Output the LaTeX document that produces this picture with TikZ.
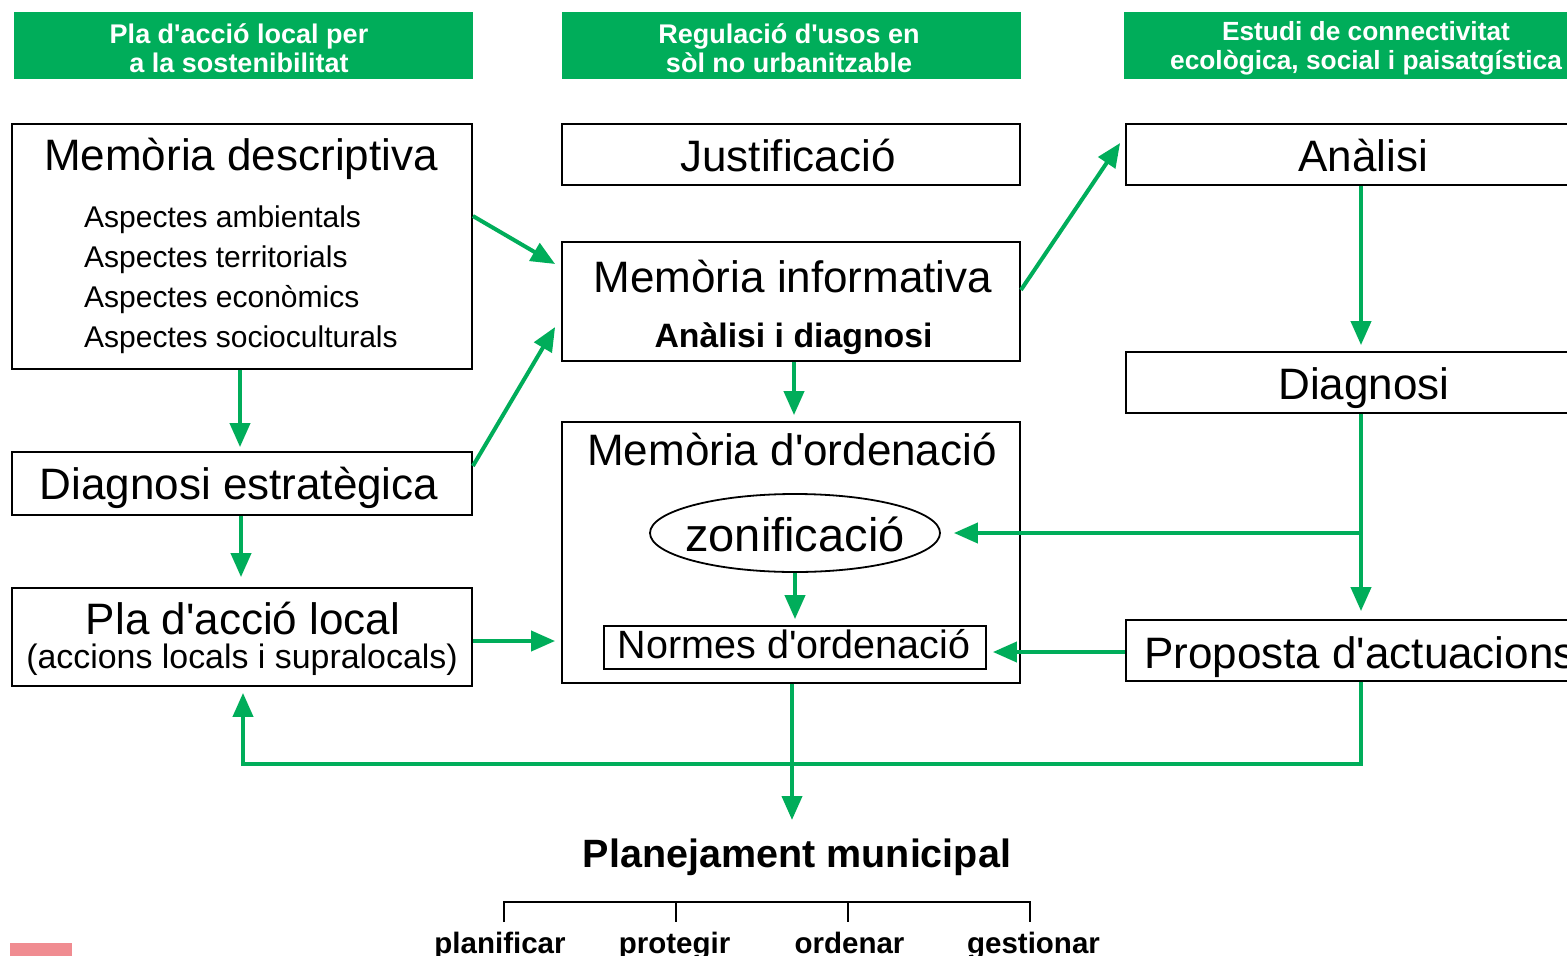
\documentclass[tikz,border=0pt]{standalone}
\usepackage{fontspec}
\setmainfont{Liberation Sans}[Ligatures=TeXOff]
\usetikzlibrary{arrows.meta,shapes.geometric,calc}
\definecolor{gr}{RGB}{0,173,90}
\definecolor{patch}{RGB}{240,140,145}
\newcommand\fsz[2]{\fontsize{#1}{#2}\selectfont}
\begin{document}
\begin{tikzpicture}[x=1pt,y=-1pt,
  box/.style={draw=black,line width=1.8pt,inner sep=0pt,fill=white},
  hdr/.style={fill=gr,inner sep=0pt},
  hdrt/.style={inner sep=0pt,text=white,align=center,font=\fsz{27}{29}\bfseries},
  big/.style={anchor=base,inner sep=0pt,font=\fsz{44}{50}},
  asp/.style={anchor=base west,inner sep=0pt,font=\fsz{30}{34}},
  lbl/.style={anchor=base,inner sep=0pt,font=\fsz{29.5}{32}\bfseries},
  arr/.style={draw=gr,line width=4pt,-{Triangle[length=24pt,width=20pt]}},
  brk/.style={draw=black,line width=2pt}]
\useasboundingbox (0,0) rectangle (1567,956);
% headers
\node[hdr,minimum width=459,minimum height=67] (h1) at (243.5,45.5) {};
\node[hdr,minimum width=459,minimum height=67] (h2) at (791.5,45.5) {};
\node[hdr,minimum width=484,minimum height=67] (h3) at (1366,45.5) {};
\node[hdrt] (h1t) at (239,48.5) {Pla d'acció local per\\a la sostenibilitat};
\node[hdrt] (h2t) at (789,48.5) {Regulació d'usos en\\sòl no urbanitzable};
\node[hdrt,font=\fsz{26.3}{29}\bfseries] (h3t) at (1366,48.5) {Estudi de connectivitat\\ecològica, social i paisatgística};
% boxes
\node[box,minimum width=460,minimum height=245] (md) at (242,246.5) {};
\node[box,minimum width=460,minimum height=63] (de) at (242,483.5) {};
\node[box,minimum width=460,minimum height=98] (pal) at (242,637) {};
\node[box,minimum width=458,minimum height=61] (ju) at (791,154.5) {};
\node[box,minimum width=458,minimum height=119] (mi) at (791,301.5) {};
\node[box,minimum width=458,minimum height=261] (mo) at (791,552.5) {};
\node[box,ellipse,minimum width=290,minimum height=78] (zo) at (795,533) {};
\node[box,minimum width=382,minimum height=43] (nm) at (795,647.5) {};
\node[box,minimum width=474,minimum height=61] (an) at (1363,154.5) {};
\node[box,minimum width=474,minimum height=61] (dg) at (1363,382.5) {};
\node[box,minimum width=474,minimum height=61] (pa) at (1363,650.5) {};
% texts
\node[big] (mdt) at (241,170) {Memòria descriptiva};
\node[asp] (a1) at (84,227) {Aspectes ambientals};
\node[asp] (a2) at (84,267) {Aspectes territorials};
\node[asp] (a3) at (84,307) {Aspectes econòmics};
\node[asp] (a4) at (84,347) {Aspectes socioculturals};
\node[big] (det) at (239,499) {Diagnosi estratègica};
\node[big] (pal1) at (243,634) {Pla d'acció local};
\node[anchor=base,inner sep=0pt,font=\fsz{33.9}{38}] (pal2) at (242,668) {(accions locals i supralocals)};
\node[big] (jut) at (788,171) {Justificació};
\node[big] (mit1) at (793,292) {Memòria informativa};
\node[anchor=base,inner sep=0pt,font=\fsz{33.8}{36}\bfseries] (mit2) at (793.5,347) {Anàlisi i diagnosi};
\node[big] (mot) at (792,465) {Memòria d'ordenació};
\node[anchor=base,inner sep=0pt,font=\fsz{47}{52}] (zot) at (795,551) {zonificació};
\node[anchor=base,inner sep=0pt,font=\fsz{39.5}{44}] (nmt) at (794,658) {Normes d'ordenació};
\node[big] (ant) at (1363,171) {Anàlisi};
\node[big] (dgt) at (1364,399) {Diagnosi};
\node[big,anchor=base west] (pat) at (1144,668) {Proposta d'actuacions};
\node[anchor=base,inner sep=0pt,font=\fsz{39.5}{44}\bfseries] (pmt) at (797,867) {Planejament municipal};
\coordinate (pmin) at (792,820);
\node[lbl] (l1) at (500,953) {planificar};
\node[lbl] (l2) at (674.5,953) {protegir};
\node[lbl] (l3) at (849.5,953) {ordenar};
\node[lbl] (l4) at (1033.5,953) {gestionar};
% bracket
\draw[brk] (504,922) -- (504,902) -- (1030,902) -- (1030,922);
\draw[brk] (676,902) -- (676,922);
\draw[brk] (848,902) -- (848,922);
% arrows
\draw[arr] ([yshift=30.5pt]md.east) -- ([xshift=-6pt,yshift=37.5pt]mi.west);
\draw[arr] ([yshift=17.5pt]de.east) -- ([xshift=-6pt,yshift=-25.5pt]mi.west);
\draw[arr,shorten >=4pt] ([xshift=-2pt]md.south) -- ([xshift=-2pt]de.north);
\draw[arr,shorten >=10pt] ([xshift=-1pt]de.south) -- ([xshift=-1pt]pal.north);
\draw[arr,shorten >=6pt] ([yshift=-4pt]pal.east) -- ([yshift=-4pt]pal.east -| mo.west);
\draw[arr,shorten >=6pt] ([xshift=3pt]mi.south) -- ([xshift=3pt]mo.north);
\draw[arr] ([yshift=11.5pt]mi.east) -- ([xshift=-5pt,yshift=11.5pt]an.west);
\draw[arr,shorten >=6pt] ([xshift=-2pt]an.south) -- ([xshift=-2pt]dg.north);
\draw[arr,shorten >=8pt] ([xshift=-2pt]dg.south) -- ([xshift=-2pt]pa.north);
\draw[arr] ([xshift=-2pt]dg.south |- zo.east) -- ([xshift=13pt]zo.east);
\draw[arr,shorten >=6pt] (zo.south) -- (nm.north);
\draw[arr,shorten >=6pt] ([yshift=-1.5pt]pa.west) -- ([yshift=-1.5pt]pa.west -| nm.east);
\draw[arr] ([xshift=1pt]mo.south) -- (pmin);
\draw[arr] ([xshift=-2pt]pa.south) -- ++(0,82) -| ([xshift=1pt,yshift=-6pt]pal.south);
% patch
\fill[patch] (10,943) rectangle (72,956);
\end{tikzpicture}
\end{document}
